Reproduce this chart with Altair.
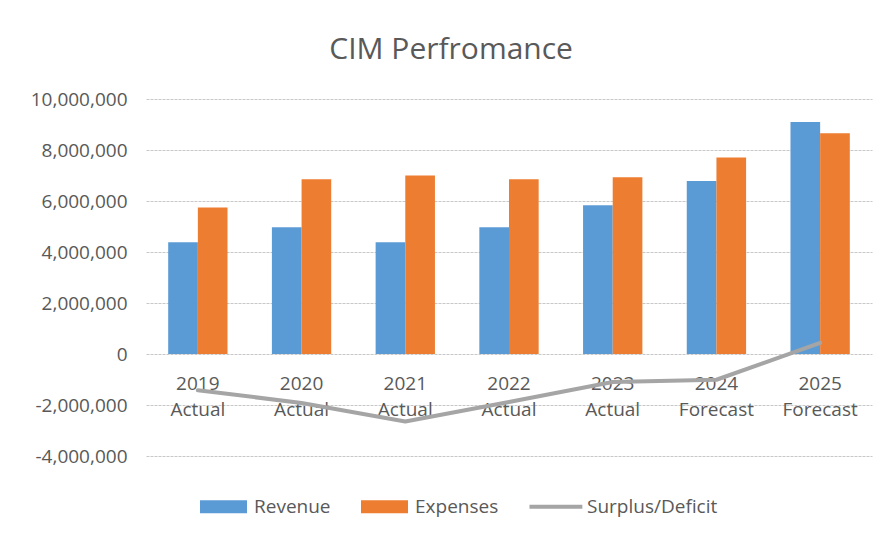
import altair as alt
import pandas as pd

categories = ["2019 Actual", "2020 Actual", "2021 Actual", "2022 Actual",
              "2023 Actual", "2024 Forecast", "2025 Forecast"]
revenue = [4380000, 4970000, 4380000, 4970000, 5830000, 6780000, 9100000]
expenses = [5750000, 6850000, 7000000, 6850000, 6930000, 7710000, 8660000]
surplus = [-1420000, -1920000, -2650000, -1880000, -1100000, -1010000, 440000]

series_names = ["Revenue", "Expenses", "Surplus/Deficit"]
series_colors = ["#5B9BD5", "#ED7D31", "#A5A5A5"]
y_ticks = [-4000000, -2000000, 0, 2000000, 4000000, 6000000, 8000000, 10000000]

bars_df = pd.DataFrame({
    "category": categories * 2,
    "series": ["Revenue"] * len(categories) + ["Expenses"] * len(categories),
    "value": revenue + expenses,
})
line_df = pd.DataFrame({
    "category": categories,
    "series": ["Surplus/Deficit"] * len(categories),
    "value": surplus,
})

FONT = "Open Sans"
TXT = "#595959"
BAR_PATH = "M-1,-0.277H1V0.277H-1Z"
LINE_PATH = "M-1.15,-0.085H1.1V0.085H-1.15Z"

x_enc = alt.X(
    "category:N", sort=categories, title=None,
    scale=alt.Scale(type="band", paddingInner=0.428, paddingOuter=0.214),
    axis=alt.Axis(offset=-102, domain=False, ticks=False, grid=False, labelAngle=0,
                  labelExpr="split(datum.label, ' ')", labelLineHeight=26,
                  labelPadding=20, labelBaseline="top", labelFontSize=19,
                  labelColor=TXT, labelFont=FONT, labelOverlap=False, labelBound=False),
)
y_enc = alt.Y(
    "value:Q", title=None,
    scale=alt.Scale(domain=[-4000000, 10000000], nice=False, zero=False),
    axis=alt.Axis(values=y_ticks, domain=False, ticks=False,
                  labelExpr="(datum.value < 0 ? '-' : '') + format(abs(datum.value), ',')",
                  labelPadding=19, labelFontSize=19, labelColor=TXT, labelFont=FONT,
                  gridColor="#C8C8C8", gridDash=[3, 1], gridWidth=1),
)
legend = alt.Legend(
    title=None, orient="none", legendX=54, legendY=384, direction="horizontal",
    symbolSize=2209, symbolStrokeWidth=0, symbolOpacity=1,
    labelFontSize=19, labelColor=TXT, labelFont=FONT,
    labelOffset=7, columnPadding=30,
)
color_enc = alt.Color("series:N", scale=alt.Scale(domain=series_names, range=series_colors),
                      legend=legend)
shape_enc = alt.Shape("series:N", scale=alt.Scale(domain=series_names,
                                                  range=[BAR_PATH, BAR_PATH, LINE_PATH]),
                      legend=legend)

legend_layer = alt.Chart(alt.Data(values=[])).mark_point(filled=True).encode(
    color=color_enc, shape=shape_enc,
)
bars = alt.Chart(bars_df).mark_bar().encode(
    x=x_enc, y=y_enc, color=color_enc,
    xOffset=alt.XOffset("series:N", sort=["Revenue", "Expenses"],
                        scale=alt.Scale(paddingInner=0, paddingOuter=0)),
)
line = alt.Chart(line_df).mark_line(strokeWidth=4, strokeCap="round", strokeJoin="round").encode(
    x=x_enc, y=y_enc, color=color_enc,
)

chart = alt.layer(legend_layer, bars, line).properties(
    width=726, height=357,
    title=alt.TitleParams("CIM Perfromance", fontSize=30, font=FONT, color=TXT,
                          fontWeight="normal", anchor="middle", frame="bounds",
                          offset=1, baseline="alphabetic"),
    padding={"left": 138, "top": 91, "right": 4, "bottom": 68},
    autosize="none",
    background="white",
).configure_view(stroke=None)

chart.save("out.html", embed_options={"renderer": "svg", "actions": False})
